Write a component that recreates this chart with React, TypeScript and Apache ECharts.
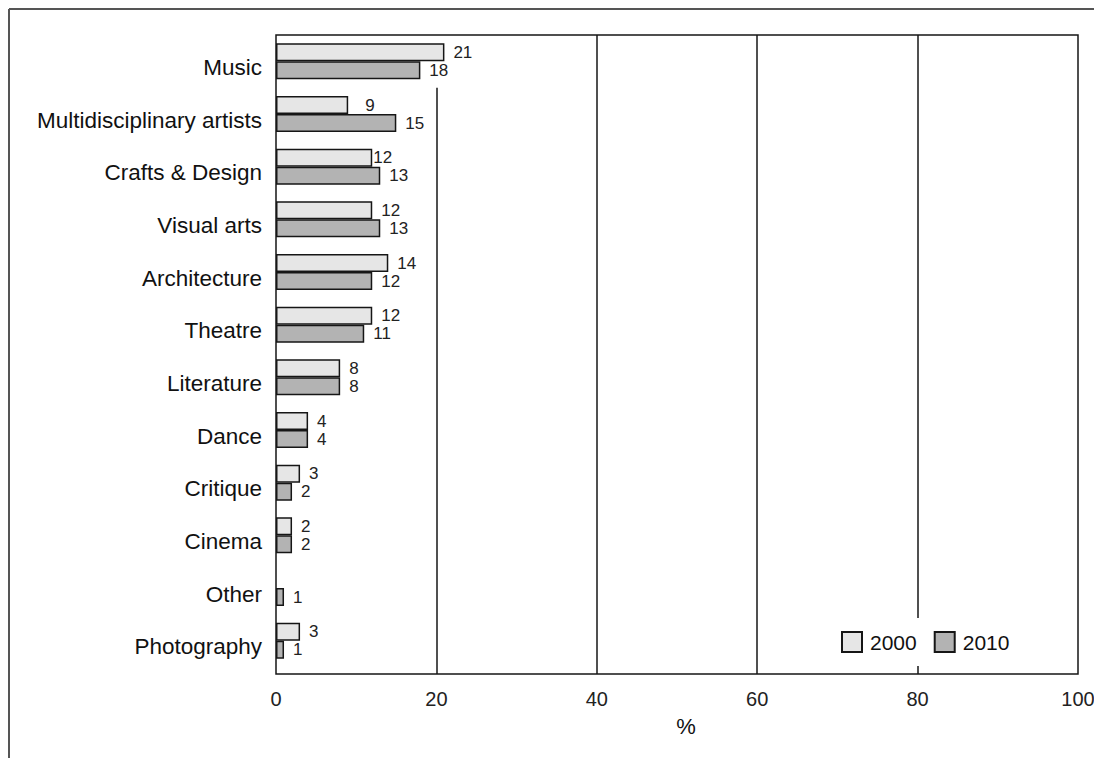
import React, { useEffect, useRef } from "react";
import * as echarts from "echarts";

// Share of artists by discipline, 2000 vs 2010 (%)
const categories = [
  "Music",
  "Multidisciplinary artists",
  "Crafts & Design",
  "Visual arts",
  "Architecture",
  "Theatre",
  "Literature",
  "Dance",
  "Critique",
  "Cinema",
  "Other",
  "Photography",
];
const values2000: (number | null)[] = [21, 9, 12, 12, 14, 12, 8, 4, 3, 2, null, 3];
const values2010: number[] = [18, 15, 13, 13, 12, 11, 8, 4, 2, 2, 1, 1];
const seriesNames = ["2000", "2010"];
const xMin = 0;
const xMax = 100;
const xStep = 20;
const axisName = "%";

// Layout (pixels)
const W = 1094;
const H = 758;
const PLOT_LEFT = 276;
const PLOT_RIGHT = 16;
const PLOT_TOP = 35;
const FRAME_BOTTOM = 84; // bottom edge of the boxed plot area
const BARS_BOTTOM = 91; // bottom edge of the band area holding the bars

const FONT = "'Liberation Sans', Arial, sans-serif";
const INK = "#161616";
const FILL_2000 = "#e6e6e6";
const FILL_2010 = "#b3b3b3";

// label distance overrides for a few 2000 labels
const labelDistance2000: Record<string, number> = {
  "Multidisciplinary artists": 17,
  "Crafts & Design": 1,
};

export default function App() {
  const ref = useRef<HTMLDivElement>(null);

  useEffect(() => {
    if (!ref.current) return;
    const chart = echarts.init(ref.current, undefined, { renderer: "svg" });

    const frameH = H - PLOT_TOP - FRAME_BOTTOM;
    const barsH = H - PLOT_TOP - BARS_BOTTOM;
    // helper axis in "band" units spanning the full frame height
    const bandMax = (categories.length * frameH) / barsH;

    const barLabel = {
      show: true,
      position: "right" as const,
      distance: 9,
      fontFamily: FONT,
      fontSize: 17,
      color: "#222",
    };

    chart.setOption({
      animation: false,
      backgroundColor: "#fff",
      textStyle: { fontFamily: FONT },
      graphic: [
        {
          type: "line",
          shape: { x1: 9, y1: 9, x2: W, y2: 9 },
          style: { stroke: "#555", lineWidth: 2 },
        },
        {
          type: "line",
          shape: { x1: 9, y1: 9, x2: 9, y2: H },
          style: { stroke: "#555", lineWidth: 2 },
        },
      ],
      legend: {
        data: seriesNames,
        left: 829,
        top: 618,
        orient: "horizontal",
        backgroundColor: "#fff",
        padding: [13, 12, 13, 12],
        itemWidth: 20,
        itemHeight: 20,
        itemGap: 17,
        icon: "rect",
        textStyle: {
          fontFamily: FONT,
          fontSize: 21,
          color: "#111",
          padding: [0, 0, 0, 3],
        },
        z: 10,
      },
      grid: [
        {
          left: PLOT_LEFT,
          right: PLOT_RIGHT,
          top: PLOT_TOP,
          bottom: FRAME_BOTTOM,
          outerBoundsMode: "none",
          containLabel: false,
          show: true,
          borderColor: INK,
          borderWidth: 1.5,
          backgroundColor: "transparent",
        },
        {
          left: PLOT_LEFT,
          right: PLOT_RIGHT,
          top: PLOT_TOP,
          bottom: BARS_BOTTOM,
          outerBoundsMode: "none",
          containLabel: false,
        },
      ],
      xAxis: [
        {
          type: "value",
          gridIndex: 0,
          min: xMin,
          max: xMax,
          interval: xStep,
          name: axisName,
          nameLocation: "middle",
          nameGap: 41,
          nameTextStyle: {
            fontFamily: FONT,
            fontSize: 22,
            color: "#111",
            padding: [0, 0, 0, 18],
          },
          axisLine: { show: false },
          axisTick: { show: false },
          splitLine: { show: false },
          axisLabel: {
            fontFamily: FONT,
            fontSize: 20,
            color: "#222",
            margin: 15,
          },
        },
        {
          type: "value",
          gridIndex: 1,
          min: xMin,
          max: xMax,
          interval: xStep,
          show: false,
          splitLine: { show: false },
        },
      ],
      yAxis: [
        {
          type: "value",
          gridIndex: 0,
          inverse: true,
          min: 0,
          max: bandMax,
          show: false,
          splitLine: { show: false },
        },
        {
          type: "category",
          gridIndex: 1,
          inverse: true,
          data: categories,
          axisLine: { show: false },
          axisTick: { show: false },
          splitLine: { show: false },
          axisLabel: {
            fontFamily: FONT,
            fontSize: 22.5,
            color: "#111",
            margin: 14,
            verticalAlign: "top",
            lineHeight: 12,
          },
        },
      ],
      series: [
        {
          // vertical reference lines at the x ticks
          type: "line",
          xAxisIndex: 0,
          yAxisIndex: 0,
          data: [],
          silent: true,
          z: 1,
          markLine: {
            silent: true,
            symbol: "none",
            z: 1,
            label: { show: false },
            lineStyle: { color: INK, width: 1.5, type: "solid" },
            data: [
              [{ coord: [20, 1] }, { coord: [20, bandMax] }],
              { xAxis: 40 },
              { xAxis: 60 },
              { xAxis: 80 },
            ],
          },
        },
        {
          name: seriesNames[0],
          type: "bar",
          xAxisIndex: 1,
          yAxisIndex: 1,
          barWidth: 18,
          barGap: "0%",
          z: 3,
          itemStyle: { color: FILL_2000, borderColor: INK, borderWidth: 1.5 },
          label: barLabel,
          data: values2000.map((v, i) => {
            const d = labelDistance2000[categories[i]];
            return d === undefined ? v : { value: v, label: { distance: d } };
          }),
        },
        {
          name: seriesNames[1],
          type: "bar",
          xAxisIndex: 1,
          yAxisIndex: 1,
          barWidth: 18,
          barGap: "0%",
          z: 3,
          itemStyle: { color: FILL_2010, borderColor: INK, borderWidth: 1.5 },
          label: barLabel,
          data: values2010,
        },
      ],
    });

    return () => chart.dispose();
  }, []);

  return (
    <div
      ref={ref}
      style={{ position: "absolute", left: 0, top: 0, width: W, height: H }}
    />
  );
}
